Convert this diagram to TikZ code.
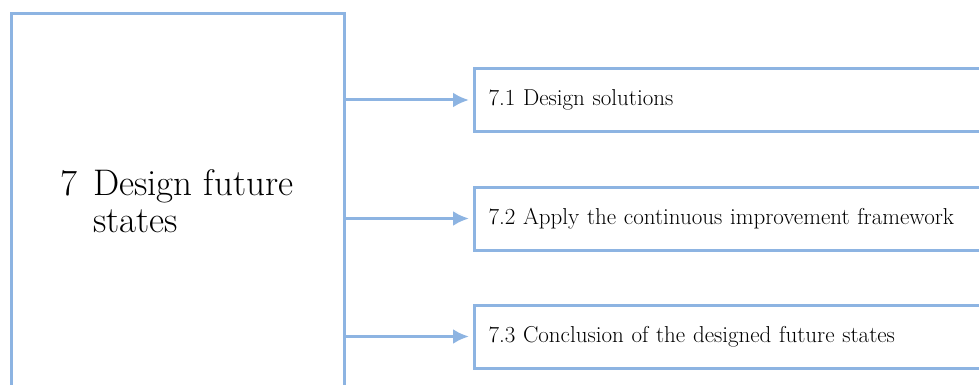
\documentclass[tikz,border=0pt]{standalone}
\usepackage{tikz}
\usetikzlibrary{arrows.meta}
\definecolor{skyline}{RGB}{141,180,226}

\begin{document}
\begin{tikzpicture}[x=1pt,y=-1pt]
	\tikzstyle{bluebox} = [draw=skyline,line width=3pt,inner sep=0pt]
	\tikzstyle{subbox} = [bluebox,anchor=north west,minimum height=63pt,text width=610pt,inner xsep=14pt,align=left,font=\fontsize{23}{27}\selectfont]
	\tikzstyle{titletext} = [inner sep=0pt,anchor=base west,align=left,font=\fontsize{37}{37}\selectfont]
	\tikzstyle{linkarrow} = [skyline,line width=3pt,-{Latex[length=16pt,width=15pt]},shorten >=4pt]

	% Fix the page and cut what runs off it
	\useasboundingbox (0,0) rectangle (979,385);
	\clip (0,0) rectangle (979,385);

	% Main step
	\node[bluebox,anchor=north west,minimum width=333pt,minimum height=420pt] (future) at (10,12.5) {};
	\node[titletext] (futurenum) at (60,195) {7};
	\node[titletext] (futuretitle) at (93,232) {Design future\\states};

	% Sub steps
	\node[subbox] (solutions) at (473,67) {7.1 Design solutions};
	\node[subbox] (framework) at (473,185.5) {7.2 Apply the continuous improvement framework};
	\node[subbox] (conclusion) at (473,303.5) {7.3 Conclusion of the designed future states};

	% Links
	\draw[linkarrow] (future.east |- solutions.west) -- (solutions.west);
	\draw[linkarrow] (future.east |- framework.west) -- (framework.west);
	\draw[linkarrow] (future.east |- conclusion.west) -- (conclusion.west);
\end{tikzpicture}
\end{document}
